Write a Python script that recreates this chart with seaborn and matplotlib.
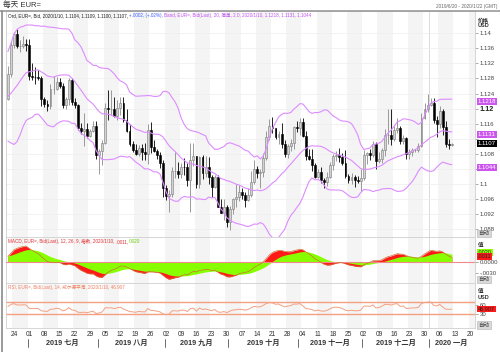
import numpy as np
import pandas as pd
import matplotlib
matplotlib.use('Agg')
import matplotlib.pyplot as plt
import matplotlib.transforms as mtransforms
import seaborn as sns

# ---- EUR= daily bid, 2019/6/20 .. 2020/1/10 ----
# closes before the visible range, only used to warm up the indicators
warmup_close = [1.1195, 1.1170, 1.1200, 1.1200, 1.1190, 1.1195, 1.1215, 1.1235, 1.1225, 1.1205,
                1.1200, 1.1175, 1.1155, 1.1165, 1.1160, 1.1150, 1.1180, 1.1205, 1.1190, 1.1165,
                1.1130, 1.1130, 1.1170,
                1.1240, 1.1253, 1.1222, 1.1275, 1.1332, 1.1310, 1.1327, 1.1290, 1.1275, 1.1208,
                1.1220, 1.1193, 1.1226]

opens = [1.1226, 1.1293, 1.1370, 1.1398, 1.1366, 1.1367, 1.1372,
         1.1370, 1.1287, 1.1285, 1.1284, 1.1282, 1.1226, 1.1213, 1.1208, 1.1251, 1.1253, 1.1271, 1.1260,
         1.1210, 1.1225, 1.1276, 1.1219, 1.1209, 1.1150, 1.1140, 1.1146, 1.1127, 1.1142, 1.1155,
         1.1076, 1.1088, 1.1108, 1.1203, 1.1199, 1.1200, 1.1180, 1.1201, 1.1216, 1.1171, 1.1140,
         1.1105, 1.1091, 1.1079, 1.1095, 1.1085, 1.1080, 1.1143, 1.1098, 1.1089, 1.1077, 1.1056,
         1.0989, 1.0968, 1.0973, 1.1034, 1.1034, 1.1027, 1.1045, 1.1044, 1.1010, 1.1064, 1.1074,
         1.1000, 1.1073, 1.1029, 1.1044, 1.1018, 1.0991, 1.1020, 1.0940, 1.0922, 1.0940,
         1.0899, 1.0934, 1.0960, 1.0966, 1.0978, 1.0970, 1.0957, 1.0970, 1.1006, 1.1040, 1.1029,
         1.1032, 1.1070, 1.1124, 1.1155, 1.1149, 1.1125, 1.1132, 1.1105, 1.1080, 1.1100, 1.1110, 1.1151,
         1.1150, 1.1165, 1.1128, 1.1074, 1.1066, 1.1051, 1.1018, 1.1032, 1.1012, 1.1006, 1.1020,
         1.1050, 1.1074, 1.1078, 1.1072, 1.1055, 1.1022, 1.1012, 1.1019, 1.1010, 1.1009,
         1.1017, 1.1078, 1.1082, 1.1077, 1.1105, 1.1060, 1.1066, 1.1091, 1.1130, 1.1130, 1.1120,
         1.1144, 1.1150, 1.1114, 1.1121, 1.1080, 1.1085, 1.1090, 1.1090, 1.1100, 1.1176, 1.1199,
         1.1210, 1.1215, 1.1171, 1.1160, 1.1195, 1.1152, 1.1105, 1.1104]
highs = [1.1312, 1.1379, 1.1404, 1.1412, 1.1382, 1.1393, 1.1386,
         1.1384, 1.1322, 1.1311, 1.1303, 1.1287, 1.1230, 1.1224, 1.1265, 1.1286, 1.1285, 1.1280, 1.1267,
         1.1232, 1.1282, 1.1282, 1.1229, 1.1212, 1.1162, 1.1188, 1.1162, 1.1147, 1.1168, 1.1166,
         1.1094, 1.1117, 1.1215, 1.1250, 1.1249, 1.1231, 1.1223, 1.1230, 1.1230, 1.1200, 1.1159,
         1.1113, 1.1107, 1.1103, 1.1107, 1.1108, 1.1160, 1.1164, 1.1116, 1.1094, 1.1086, 1.1064,
         1.0998, 1.0985, 1.1046, 1.1085, 1.1058, 1.1056, 1.1068, 1.1055, 1.1109, 1.1110, 1.1075,
         1.1075, 1.1076, 1.1075, 1.1071, 1.1025, 1.1025, 1.1023, 1.0960, 1.0960, 1.0944,
         1.0943, 1.0963, 1.0999, 1.0998, 1.0990, 1.0980, 1.0990, 1.1034, 1.1063, 1.1047, 1.1040,
         1.1083, 1.1140, 1.1173, 1.1179, 1.1150, 1.1140, 1.1163, 1.1117, 1.1105, 1.1119, 1.1153, 1.1168,
         1.1176, 1.1175, 1.1140, 1.1092, 1.1093, 1.1055, 1.1039, 1.1044, 1.1016, 1.1031, 1.1059,
         1.1080, 1.1088, 1.1096, 1.1082, 1.1090, 1.1028, 1.1030, 1.1024, 1.1021, 1.1039,
         1.1090, 1.1085, 1.1094, 1.1115, 1.1111, 1.1086, 1.1096, 1.1146, 1.1200, 1.1199, 1.1155,
         1.1175, 1.1153, 1.1130, 1.1125, 1.1093, 1.1096, 1.1094, 1.1108, 1.1188, 1.1215, 1.1239,
         1.1228, 1.1229, 1.1180, 1.1207, 1.1200, 1.1166, 1.1120, 1.1109]
lows = [1.1224, 1.1284, 1.1361, 1.1362, 1.1349, 1.1362, 1.1353,
        1.1277, 1.1277, 1.1266, 1.1275, 1.1207, 1.1205, 1.1193, 1.1200, 1.1240, 1.1250, 1.1255, 1.1203,
        1.1200, 1.1210, 1.1211, 1.1201, 1.1143, 1.1132, 1.1101, 1.1122, 1.1125, 1.1139, 1.1066,
        1.1027, 1.1050, 1.1106, 1.1170, 1.1182, 1.1177, 1.1171, 1.1183, 1.1164, 1.1138, 1.1101,
        1.1086, 1.1077, 1.1074, 1.1065, 1.1064, 1.1052, 1.1083, 1.1086, 1.1066, 1.1042, 1.0965,
        1.0958, 1.0926, 1.0965, 1.1016, 1.1015, 1.1017, 1.1023, 1.0995, 1.0927, 1.1048, 1.0990,
        1.0990, 1.1013, 1.1019, 1.0999, 1.0965, 1.0990, 1.0938, 1.0922, 1.0905, 1.0885,
        1.0879, 1.0920, 1.0940, 1.0956, 1.0961, 1.0940, 1.0955, 1.0965, 1.1000, 1.1016, 1.0990,
        1.1020, 1.1064, 1.1118, 1.1135, 1.1120, 1.1105, 1.1095, 1.1072, 1.1069, 1.1088, 1.1094, 1.1138,
        1.1131, 1.1125, 1.1064, 1.1063, 1.1036, 1.1017, 1.1017, 1.1003, 1.0990, 1.0995, 1.1015,
        1.1038, 1.1060, 1.1058, 1.1051, 1.1015, 1.1002, 1.0999, 1.0993, 1.1002, 1.0981,
        1.1012, 1.1054, 1.1065, 1.1073, 1.1040, 1.1055, 1.1057, 1.1075, 1.1107, 1.1104, 1.1115,
        1.1135, 1.1107, 1.1105, 1.1067, 1.1066, 1.1074, 1.1084, 1.1084, 1.1098, 1.1173, 1.1190,
        1.1208, 1.1163, 1.1125, 1.1150, 1.1131, 1.1099, 1.1093, 1.1100]
closes = [1.1293, 1.1370, 1.1398, 1.1366, 1.1367, 1.1372, 1.1370,
          1.1287, 1.1285, 1.1284, 1.1282, 1.1226, 1.1213, 1.1208, 1.1251, 1.1253, 1.1271, 1.1260, 1.1210,
          1.1225, 1.1276, 1.1219, 1.1209, 1.1150, 1.1140, 1.1146, 1.1127, 1.1142, 1.1155, 1.1076,
          1.1088, 1.1108, 1.1203, 1.1199, 1.1200, 1.1180, 1.1201, 1.1216, 1.1171, 1.1140, 1.1105,
          1.1091, 1.1079, 1.1095, 1.1085, 1.1080, 1.1143, 1.1098, 1.1089, 1.1077, 1.1056, 1.0989,
          1.0968, 1.0973, 1.1034, 1.1034, 1.1027, 1.1045, 1.1044, 1.1010, 1.1064, 1.1074, 1.1000,
          1.1073, 1.1029, 1.1044, 1.1018, 1.0991, 1.1020, 1.0940, 1.0922, 1.0940, 1.0899,
          1.0934, 1.0960, 1.0966, 1.0978, 1.0970, 1.0957, 1.0970, 1.1006, 1.1040, 1.1029, 1.1032,
          1.1070, 1.1124, 1.1155, 1.1149, 1.1125, 1.1132, 1.1105, 1.1080, 1.1100, 1.1110, 1.1151, 1.1150,
          1.1165, 1.1128, 1.1074, 1.1066, 1.1051, 1.1018, 1.1032, 1.1012, 1.1006, 1.1020, 1.1050,
          1.1074, 1.1078, 1.1072, 1.1055, 1.1022, 1.1012, 1.1019, 1.1010, 1.1009, 1.1017,
          1.1078, 1.1082, 1.1077, 1.1105, 1.1060, 1.1066, 1.1091, 1.1130, 1.1130, 1.1120, 1.1144,
          1.1150, 1.1114, 1.1121, 1.1080, 1.1085, 1.1090, 1.1090, 1.1100, 1.1176, 1.1199, 1.1210,
          1.1215, 1.1171, 1.1160, 1.1195, 1.1152, 1.1105, 1.1104, 1.1107]

# axis labels
day_labels = ['24', '01', '08', '15', '22', '29', '05', '12', '19', '26', '02', '09', '16', '23', '30',
              '07', '14', '21', '28', '04', '11', '18', '25', '02', '09', '16', '23', '30', '06', '13', '20']
month_labels = ['2019 七月', '2019 八月', '2019 九月', '2019 十月', '2019 十一月', '2019 十二月', '2020 一月']
month_start = [5, 28, 50, 71, 94, 115, 137]   # trading-day index of 1st of month (6/24 = 0)
price_ticks = [1.088, 1.092, 1.096, 1.1, 1.104, 1.108, 1.112, 1.116, 1.12, 1.124, 1.128, 1.132, 1.136, 1.14]
# 1.104 and 1.112 sit under the value boxes, so they show no label
price_tick_labels = ['1.088', '1.092', '1.096', '1.1', '', '1.108', '', '1.116', '1.12',
                     '1.124', '1.128', '1.132', '1.136', '1.14']
band_labels = ['1.1218', '1.1131', '1.1044']
last_label = '1.1107'
rsi_label = '46.907'

# ---- indicators ----
n = len(closes)
x = np.arange(n) - 2          # 2019/6/24 -> 0
allc = pd.Series(warmup_close + closes)
mid = allc.rolling(20).mean().iloc[-n:].values
sd = allc.rolling(20).std(ddof=0).iloc[-n:].values
ema12 = allc.ewm(span=12, adjust=False).mean()
ema26 = allc.ewm(span=26, adjust=False).mean()
macd_all = ema12 - ema26
sig_all = macd_all.ewm(span=9, adjust=False).mean()
delta = allc.diff()
gain = delta.clip(lower=0).ewm(alpha=1 / 14, adjust=False).mean()
loss = (-delta.clip(upper=0)).ewm(alpha=1 / 14, adjust=False).mean()
rsi_all = 100 - 100 / (1 + gain / loss)

bands = pd.DataFrame({'x': x, 'upper': mid + 2 * sd, 'mid': mid, 'lower': mid - 2 * sd})
ind = pd.DataFrame({'x': x, 'macd': macd_all.iloc[-n:].values, 'signal': sig_all.iloc[-n:].values,
                    'rsi': rsi_all.iloc[-n:].values})

# ---- figure ----
sns.set_style('white')
plt.rcParams['font.family'] = ['Liberation Sans', 'Noto Sans CJK SC']
plt.rcParams['axes.unicode_minus'] = False

W, H = 500, 352
fig = plt.figure(figsize=(W / 100, H / 100), dpi=100)


def fx(px):
    return px / W


def fy(py):
    return 1 - py / H


L, R = 6, 475
ax_p = fig.add_axes([fx(L), fy(236.5), (R - L) / W, 225.5 / H])
ax_m = fig.add_axes([fx(L), fy(283), (R - L) / W, 46.5 / H])
ax_r = fig.add_axes([fx(L), fy(328), (R - L) / W, 45 / H])
axes = [ax_p, ax_m, ax_r]

for ax in axes:
    ax.set_xlim(-2.63, 151.6)
    for k in range(0, 31, 2):
        ax.axvspan(5 * k - 0.5, 5 * k + 4.5, color='#f4f4f4', lw=0, zorder=0)
    ax.axvline(136.5, color='#d6d6d6', lw=0.6, zorder=0.5)
    for s in ax.spines.values():
        s.set_color('#cfcfcf')
        s.set_linewidth(0.6)
    ax.yaxis.tick_right()
    ax.tick_params(axis='y', length=2, width=0.5, color='#888888', labelsize=4.3,
                   labelcolor='#444444', pad=1.5)
    ax.tick_params(axis='x', length=0, labelbottom=False)
    ax.set_axisbelow(True)

# price panel
up = np.array(closes) >= np.array(opens)
o, h, l, c = (np.array(v) for v in (opens, highs, lows, closes))
ax_p.vlines(x[up], l[up], h[up], color='#8a8a8a', lw=0.6, zorder=2)
ax_p.vlines(x[~up], l[~up], h[~up], color='black', lw=0.6, zorder=2)
ax_p.bar(x[up], c[up] - o[up], bottom=o[up], width=0.62, color='#d2d2d2',
         edgecolor='#7a7a7a', lw=0.4, zorder=3)
ax_p.bar(x[~up], o[~up] - c[~up], bottom=c[~up], width=0.62, color='black',
         edgecolor='black', lw=0.4, zorder=3)
for col in ['upper', 'mid', 'lower']:
    sns.lineplot(data=bands, x='x', y=col, ax=ax_p, color='#dd8cff', lw=0.8, zorder=4)
ax_p.set_ylim(1.0861, 1.1459)
ax_p.set_yticks(price_ticks)
ax_p.set_yticklabels(price_tick_labels)
for t in ax_p.get_yticklabels():
    if t.get_text() == '1.12':
        t.set_fontsize(5.2)
        t.set_fontweight('bold')
        t.set_color('#222222')
ax_p.grid(axis='y', color='#ededed', lw=0.5)

# MACD panel
ax_m.fill_between(ind['x'], 0, ind['macd'], color='#ff1a1a', lw=0, zorder=2)
ax_m.fill_between(ind['x'], 0, ind['signal'], color='#88ff00', lw=0, zorder=3)
sns.lineplot(data=ind, x='x', y='macd', ax=ax_m, color='#d07030', lw=0.5, zorder=4)
ax_m.axhline(0, color='#f08a8a', lw=0.8, zorder=3.5)
ax_m.set_ylim(-0.005809, 0.006873)
ax_m.set_yticks([-0.003, 0.0])
ax_m.set_yticklabels(['-.0030', '0.0000'])

# RSI panel
sns.lineplot(data=ind, x='x', y='rsi', ax=ax_r, color='#f4a080', lw=0.7, zorder=3)
ax_r.axhline(70, color='#f4a080', lw=1.0, zorder=2)
ax_r.axhline(30, color='#f4a080', lw=1.0, zorder=2)
ax_r.set_ylim(-14.2, 131)
ax_r.set_yticks([30, 60])
ax_r.set_yticklabels(['30', '60'])

for ax in axes:
    ax.set_xlabel('')
    ax.set_ylabel('')

# date ticks under the RSI panel
ax_r.set_xticks([5 * k for k in range(len(day_labels))])
ax_r.set_xticklabels(day_labels)
ax_r.tick_params(axis='x', labelbottom=True, labelsize=4.8, labelcolor='#333333', pad=2.5)

blend = mtransforms.blended_transform_factory(ax_r.transData, fig.transFigure)
ends = month_start[1:] + [151.6]
for lab, s, e in zip(month_labels, month_start, ends):
    ax_r.text((s - 0.5 + e - 0.5) / 2, fy(343), lab, transform=blend, ha='center', va='center',
              fontsize=5.2, fontweight='bold', color='#333333', clip_on=False)
    ax_r.plot([s - 0.5, s - 0.5], [fy(338.5), fy(346.5)], transform=blend, color='#555555',
              lw=0.6, clip_on=False)

# value boxes on the right axis
bt = mtransforms.blended_transform_factory(ax_p.transAxes, ax_p.transData)
for lab in band_labels:
    ax_p.text(1.006, float(lab), lab, transform=bt, fontsize=4.3, color='white', va='center',
              ha='left', zorder=10, clip_on=False,
              bbox=dict(boxstyle='square,pad=0.15', fc='#cc55f0', ec='none'))
ax_p.text(1.006, float(last_label), last_label, transform=bt, fontsize=4.3, color='white',
          va='center', ha='left', zorder=11, clip_on=False,
          bbox=dict(boxstyle='square,pad=0.15', fc='black', ec='none'))

bm = mtransforms.blended_transform_factory(ax_m.transAxes, ax_m.transData)
sig_last, macd_last = ind['signal'].iloc[-1], ind['macd'].iloc[-1]
ax_m.text(1.006, 0.0025, f'{sig_last:.4f}'.lstrip('0'), transform=bm, fontsize=4.0, color='#333333',
          va='center', ha='left', zorder=10, clip_on=False,
          bbox=dict(boxstyle='square,pad=0.15', fc='#88ff00', ec='none'))
ax_m.text(1.006, 0.0014, f'{macd_last:.4f}'.lstrip('0'), transform=bm, fontsize=4.0, color='#222222',
          va='center', ha='left', zorder=11, clip_on=False,
          bbox=dict(boxstyle='square,pad=0.15', fc='#ff1a1a', ec='none'))

br = mtransforms.blended_transform_factory(ax_r.transAxes, ax_r.transData)
ax_r.text(1.006, float(rsi_label), rsi_label, transform=br, fontsize=4.0, color='#222222',
          va='center', ha='left', zorder=10, clip_on=False,
          bbox=dict(boxstyle='square,pad=0.15', fc='#ff1a1a', ec='none'))

# axis titles and auto-scale buttons on the right
for txt, py in [('价格', 20), ('USD', 25.7), ('值', 245.7), ('值', 291.7), ('USD', 297.7)]:
    fig.text(fx(478), fy(py), txt, fontsize=4.0, color='#333333', va='center', ha='left',
             fontweight='bold')
for py in [233.5, 279.5, 325]:
    fig.text(fx(478.5), fy(py), '自动', fontsize=4.0, color='#444444', va='center', ha='left',
             bbox=dict(boxstyle='square,pad=0.2', fc='#d9d9d9', ec='#b0b0b0', lw=0.4))

# titles
fig.text(fx(3), fy(5), '每天 EUR=', fontsize=5.5, color='#333333', va='center', ha='left')
fig.text(fx(497), fy(6.5), '2019/6/20 - 2020/1/22 (GMT)', fontsize=3.4, color='#666666',
         va='center', ha='right')
fig.add_artist(plt.Line2D([0, 1], [fy(10.5), fy(10.5)], color='#9a9a9a', lw=1.2))
fig.add_artist(plt.Line2D([fx(1.5), fx(1.5)], [fy(10.5), 0], color='#8a8a8a', lw=1.2))

renderer = fig.canvas.get_renderer()


def chain(px, py, parts, size):
    for s, col in parts:
        t = fig.text(fx(px), fy(py), s, fontsize=size, color=col, va='center', ha='left')
        px += t.get_window_extent(renderer=renderer).width


chain(8, 15.5, [('Ord, EUR=, Bid, 2020/1/10, 1.1104, 1.1109, 1.1100, 1.1107, ', '#222222'),
                ('+.0002, (+.02%), ', '#4060ff'),
                ('Band, EUR=, Bid(Last), 20, 简单, 2.0, 2020/1/10, 1.1218, 1.1131, 1.1044', '#c050f0')],
      3.3)
chain(8, 241.5, [('MACD, EUR=, Bid(Last), 12, 26, 9, 指数, 2020/1/10, ', '#e03030'),
                 (f'{macd_last:.4f}'.lstrip('0') + ', ', '#e03030'),
                 (f'{sig_last:.4f}'.lstrip('0'), '#66cc00')], 3.3)
chain(8, 287, [('RSI, EUR=, Bid(Last), 14, 威尔德平滑, 2020/1/10, 46.907', '#f08060')], 3.3)

fig.savefig('out.png', dpi=100)
